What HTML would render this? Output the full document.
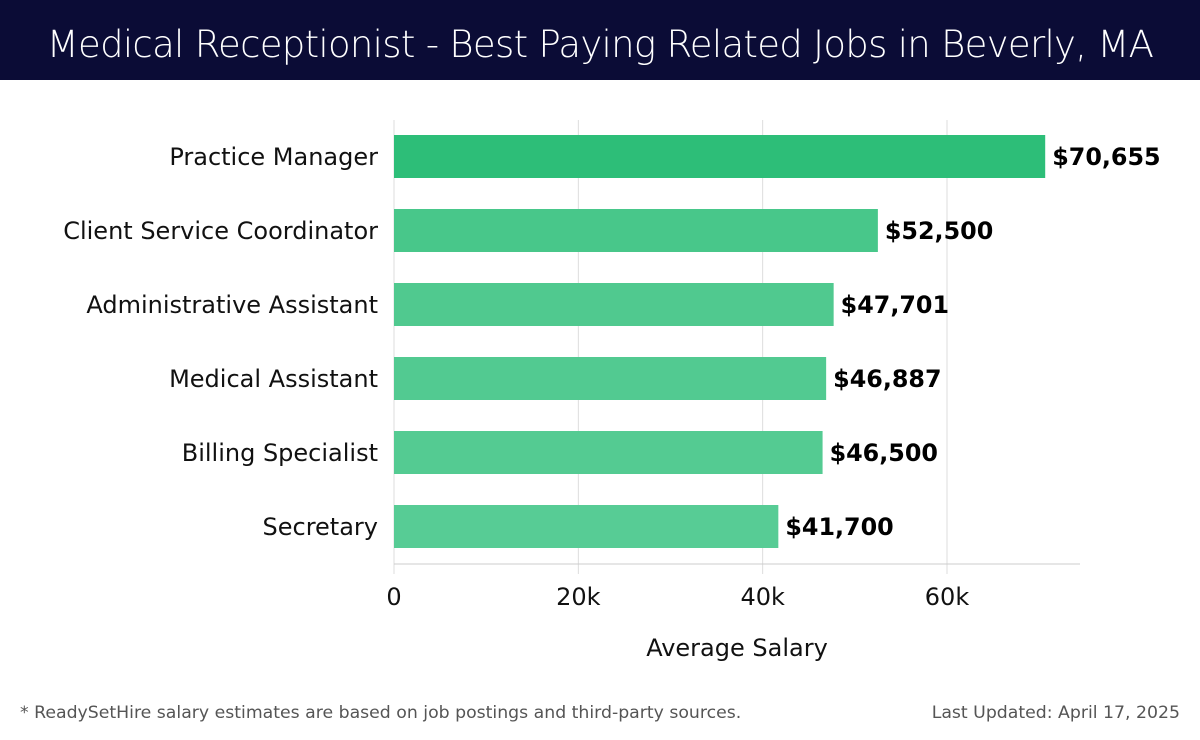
<!DOCTYPE html>
<html><head><meta charset="utf-8"><style>
body{margin:0;width:1200px;height:740px;background:#fff;font-family:"DejaVu Sans","Liberation Sans",sans-serif;overflow:hidden;position:relative}
#hdr{position:absolute;left:0;top:0;width:1200px;height:80px;background:#0b0c36;color:#fff;font-size:37px;font-weight:300;text-align:center;line-height:90px;font-family:"DejaVu Sans","Liberation Sans",sans-serif;letter-spacing:-0.7px}
.foot{position:absolute;top:703px;font-size:17.3px;color:#555;font-family:"DejaVu Sans","Liberation Sans",sans-serif}
</style></head><body>
<div id="hdr">Medical Receptionist - Best Paying Related Jobs in Beverly, MA</div>
<svg id="chart" width="1200" height="700" style="position:absolute;left:0;top:0;font-family:'DejaVu Sans','Liberation Sans',sans-serif"></svg>
<div class="foot" style="left:20px">* ReadySetHire salary estimates are based on job postings and third-party sources.</div>
<div class="foot" style="right:20px">Last Updated: April 17, 2025</div>
<script>
const categories=["Practice Manager","Client Service Coordinator","Administrative Assistant","Medical Assistant","Billing Specialist","Secretary"];
const values=[70655,52500,47701,46887,46500,41700];
const valueLabels=["$70,655","$52,500","$47,701","$46,887","$46,500","$41,700"];
const ticks=[0,20000,40000,60000];
const tickLabels=["0","20k","40k","60k"];
const colors=["#2dbe78","#48c78a","#50c98f","#52ca91","#54cb92","#57cc95"];
const NS="http://www.w3.org/2000/svg";
const svg=document.getElementById('chart');
const x0=394,pxPerUnit=(947-394)/60000;
const xs=v=>x0+v*pxPerUnit;
const ys=i=>135+i*74;
const bh=43;
function mk(t,a){const e=document.createElementNS(NS,t);for(const k in a)e.setAttribute(k,a[k]);svg.appendChild(e);return e;}
ticks.forEach((t,i)=>{
 const g=mk('line',{x1:xs(t),x2:xs(t),y1:120,y2:574,stroke:'#ddd','stroke-width':1});
 
 
 const l=mk('text',{x:xs(t),y:605,'text-anchor':'middle','font-size':24,fill:'#111'});
 l.textContent=tickLabels[i];
 
 
});
const ax=mk('line',{x1:x0,x2:1080,y1:564,y2:564,stroke:'#ccc','stroke-width':1});


categories.forEach((c,i)=>{
 const r=mk('rect',{x:x0,y:ys(i),width:xs(values[i])-x0,height:bh,fill:colors[i]});
 
 
 const t=mk('text',{x:378,y:ys(i)+bh/2+8.5,'text-anchor':'end','font-size':24,fill:'#111'});
 t.textContent=c;
 
 
 const v=mk('text',{x:xs(values[i])+7,y:ys(i)+bh/2+8.5,'font-size':23.8,'font-weight':'bold',fill:'#000'});
 v.textContent=valueLabels[i];
 
 
});
const at=mk('text',{x:737,y:656,'text-anchor':'middle','font-size':24,fill:'#111'});
at.textContent="Average Salary";


</script>
</body></html>
